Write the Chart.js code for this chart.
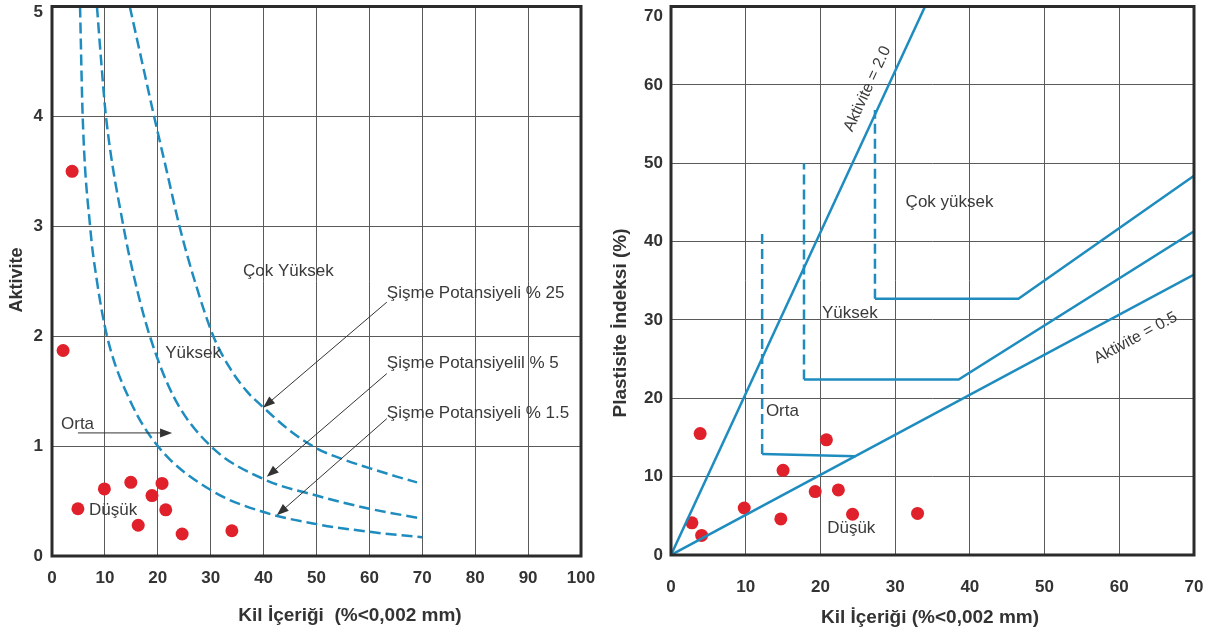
<!DOCTYPE html>
<html>
<head>
<meta charset="utf-8">
<script src="https://cdn.jsdelivr.net/npm/chart.js@4"></script>
<style>
  html, body { margin: 0; padding: 0; background: #fff; }
  #wrap { position: relative; width: 1207px; height: 630px; overflow: hidden; }
  #left { position: absolute; left: 0; top: 0; }
  #right { position: absolute; left: 600px; top: 0; }
</style>
</head>
<body>
<div id="wrap">
  <canvas id="left" width="600" height="630"></canvas>
  <canvas id="right" width="607" height="630"></canvas>
</div>
<script>
// ---- left chart: Aktivite vs Kil İçeriği ----
const leftTicksX = [0, 10, 20, 30, 40, 50, 60, 70, 80, 90, 100];
const leftTicksY = [0, 1, 2, 3, 4, 5];

// swell potential curves
const swell25C = [14.7, 17.0, 19.3, 21.7, 24.1, 27.0, 30.5, 33.5, 36.8, 40.0, 45.0, 50.0, 55.0, 60.0, 65.0, 69.0];
const swell25A = [5.0, 4.5, 4.0, 3.5, 3.0, 2.5, 2.0, 1.72, 1.5, 1.35, 1.14, 0.98, 0.88, 0.80, 0.725, 0.67];
const swell5C = [8.5, 9.3, 10.2, 13.5, 15.7, 18.5, 23.0, 30.0, 40.0, 50.0, 60.0, 70.0];
const swell5A = [5.0, 4.5, 4.0, 3.0, 2.5, 2.0, 1.45, 1.0, 0.70, 0.55, 0.43, 0.34];
const swell15C = [5.3, 5.8, 7.2, 8.5, 10.4, 14.7, 20.0, 30.0, 40.0, 50.0, 60.0, 70.0];
const swell15A = [5.0, 4.0, 3.0, 2.5, 2.0, 1.42, 1.0, 0.60, 0.40, 0.29, 0.22, 0.17];

// samples
const sampleC = [3.8, 2.1, 9.9, 4.9, 14.9, 18.9, 20.8, 21.5, 16.3, 24.6, 34.0];
const sampleA = [3.5, 1.87, 0.61, 0.43, 0.67, 0.55, 0.66, 0.42, 0.28, 0.20, 0.23];

// ---- right chart: Plastisite İndeksi vs Kil İçeriği ----
const rightTicksX = [0, 10, 20, 30, 40, 50, 60, 70];
const rightTicksY = [0, 10, 20, 30, 40, 50, 60, 70];

const act2C = [0, 34];
const act2PI = [0, 70];
const act05C = [0, 70];
const act05PI = [0, 35.8];
const highC = [27.3, 46.5, 70];
const highPI = [32.7, 32.7, 48.4];
const midC = [17.8, 38.5, 70];
const midPI = [22.4, 22.4, 41.3];
const lowC = [12.2, 24.7];
const lowPI = [12.9, 12.6];
const dashLowC = [12.2, 12.2];
const dashLowPI = [12.9, 41.3];
const dashMidC = [17.8, 17.8];
const dashMidPI = [22.4, 50.0];
const dashHighC = [27.3, 27.3];
const dashHighPI = [32.7, 56.8];

const piC = [2.8, 3.9, 4.1, 9.8, 14.7, 15.0, 19.3, 20.8, 22.4, 24.3, 33.0];
const piPI = [4.1, 15.5, 2.5, 6.0, 4.6, 10.8, 8.1, 14.7, 8.3, 5.2, 5.3];

const FONT = "'Liberation Sans', Arial, sans-serif";
const BLUE = '#1e8cbf';
const RED = '#e0202a';
const TEXT = '#3a3a3a';

const pts = (xs, ys) => xs.map((v, i) => ({ x: v, y: ys[i] }));

// text, arrows and frame drawn on top, positioned through the scales
const notesPlugin = {
  id: 'notes',
  afterDatasetsDraw(chart, args, opts) {
    const { ctx, chartArea: a, scales: { x, y } } = chart;
    ctx.save();
    ctx.lineWidth = 3;
    ctx.strokeStyle = '#2b2b2b';
    ctx.strokeRect(a.left, a.top, a.right - a.left, a.bottom - a.top);

    (opts.arrows || []).forEach(ar => {
      const x0 = x.getPixelForValue(ar.from[0]), y0 = y.getPixelForValue(ar.from[1]);
      const x1 = x.getPixelForValue(ar.to[0]), y1 = y.getPixelForValue(ar.to[1]);
      const ang = Math.atan2(y1 - y0, x1 - x0);
      ctx.strokeStyle = '#333';
      ctx.fillStyle = '#333';
      ctx.lineWidth = 1;
      ctx.beginPath();
      ctx.moveTo(x0, y0);
      ctx.lineTo(x1 - 8 * Math.cos(ang), y1 - 8 * Math.sin(ang));
      ctx.stroke();
      ctx.beginPath();
      ctx.moveTo(x1, y1);
      ctx.lineTo(x1 - 12 * Math.cos(ang) + 4.5 * Math.sin(ang), y1 - 12 * Math.sin(ang) - 4.5 * Math.cos(ang));
      ctx.lineTo(x1 - 12 * Math.cos(ang) - 4.5 * Math.sin(ang), y1 - 12 * Math.sin(ang) + 4.5 * Math.cos(ang));
      ctx.closePath();
      ctx.fill();
    });

    (opts.texts || []).forEach(t => {
      let px, py;
      if (t.px !== undefined) { px = t.px; py = t.py; }
      else { px = x.getPixelForValue(t.x); py = y.getPixelForValue(t.y); }
      let ang = (t.angle || 0) * Math.PI / 180;
      if (t.along) {
        const [xs, ys] = t.along;
        const n = xs.length - 1;
        ang = Math.atan2(y.getPixelForValue(ys[n]) - y.getPixelForValue(ys[0]),
                         x.getPixelForValue(xs[n]) - x.getPixelForValue(xs[0]));
      }
      ctx.save();
      ctx.translate(px, py);
      ctx.rotate(ang);
      ctx.font = t.font || `17px ${FONT}`;
      ctx.fillStyle = t.color || TEXT;
      ctx.textAlign = t.align || 'left';
      ctx.textBaseline = 'middle';
      ctx.fillText(t.text, 0, 0);
      ctx.restore();
    });
    ctx.restore();
  }
};

// fixed axis boxes, no extra padding for labels that stick out
function axisOpts(ticks, padding, lineHeight, size) {
  const min = ticks[0], max = ticks[ticks.length - 1];
  const step = ticks[1] - ticks[0];
  return {
    type: 'linear', min, max,
    afterBuildTicks: s => { s.ticks = ticks.map(v => ({ value: v })); },
    ticks: {
      stepSize: step, padding, color: '#333',
      font: { family: FONT, size: 17, weight: 'bold', lineHeight },
      // top label sits a bit lower in the source, as in a two-line label
      callback: (v, i, arr) => (size.axis === 'y' && v === max) ? ['', String(v)] : String(v)
    },
    grid: { color: '#5a5a5a', lineWidth: 1, drawTicks: false },
    border: { display: false },
    afterFit: s => {
      if (size.axis === 'x') s.height = size.px; else s.width = size.px;
      s.paddingTop = 0; s.paddingBottom = 0; s.paddingLeft = 0; s.paddingRight = 0;
    }
  };
}

const bold = size => `bold ${size}px ${FONT}`;
const dashed = (xs, ys, dash) => ({
  data: pts(xs, ys), showLine: true, borderColor: BLUE, borderWidth: 2.5,
  borderDash: dash || [], pointRadius: 0
});

new Chart(document.getElementById('left'), {
  type: 'scatter',
  data: {
    datasets: [
      { ...dashed(swell25C, swell25A, [11, 5]), cubicInterpolationMode: 'monotone' },
      { ...dashed(swell5C, swell5A, [11, 5]), cubicInterpolationMode: 'monotone' },
      { ...dashed(swell15C, swell15A, [11, 5]), cubicInterpolationMode: 'monotone' },
      { data: pts(sampleC, sampleA), backgroundColor: RED, borderColor: RED, pointRadius: 6.5, borderWidth: 0 }
    ]
  },
  options: {
    responsive: false,
    animation: false,
    layout: { padding: { top: 4, right: 19, left: 0, bottom: 0 } },
    scales: {
      x: axisOpts(leftTicksX, 12, 1.2, { axis: 'x', px: 74 }),
      y: axisOpts(leftTicksY, 9, 0.7, { axis: 'y', px: 52 })
    },
    plugins: {
      legend: { display: false },
      tooltip: { enabled: false },
      notes: {
        arrows: [
          { from: [4.9, 1.12], to: [22.7, 1.12] },
          { from: [63.3, 2.31], to: [39.9, 1.35] },
          { from: [63.3, 1.66], to: [40.6, 0.72] },
          { from: [63.3, 1.25], to: [42.5, 0.37] }
        ],
        texts: [
          { text: 'Çok Yüksek', x: 36.1, y: 2.59 },
          { text: 'Yüksek', x: 21.4, y: 1.84 },
          { text: 'Orta', x: 1.7, y: 1.20 },
          { text: 'Düşük', x: 7.0, y: 0.42 },
          { text: 'Şişme Potansiyeli % 25', x: 63.3, y: 2.39 },
          { text: 'Şişme Potansiyelil % 5', x: 63.3, y: 1.75 },
          { text: 'Şişme Potansiyeli % 1.5', x: 63.3, y: 1.30 },
          { text: 'Kil İçeriği  (%<0,002 mm)', px: 350, py: 616, align: 'center', font: bold(19), color: '#333' },
          { text: 'Aktivite', px: 17, py: 280, angle: -90, align: 'center', font: bold(18), color: '#333' }
        ]
      }
    }
  },
  plugins: [notesPlugin]
});

new Chart(document.getElementById('right'), {
  type: 'scatter',
  data: {
    datasets: [
      dashed(act2C, act2PI),
      dashed(act05C, act05PI),
      dashed(highC, highPI),
      dashed(midC, midPI),
      dashed(lowC, lowPI),
      dashed(dashLowC, dashLowPI, [10, 5]),
      dashed(dashMidC, dashMidPI, [10, 5]),
      dashed(dashHighC, dashHighPI, [10, 5]),
      { data: pts(piC, piPI), backgroundColor: RED, borderColor: RED, pointRadius: 6.5, borderWidth: 0 }
    ]
  },
  options: {
    responsive: false,
    animation: false,
    layout: { padding: { top: 4, right: 13, left: 0, bottom: 0 } },
    scales: {
      x: axisOpts(rightTicksX, 22, 1.2, { axis: 'x', px: 75 }),
      y: axisOpts(rightTicksY, 8, 1.2, { axis: 'y', px: 71 })
    },
    plugins: {
      legend: { display: false },
      tooltip: { enabled: false },
      notes: {
        texts: [
          { text: 'Çok yüksek', x: 31.4, y: 45.0 },
          { text: 'Yüksek', x: 20.2, y: 30.8 },
          { text: 'Orta', x: 12.7, y: 18.4 },
          { text: 'Düşük', x: 20.9, y: 3.4 },
          { text: 'Aktivite = 2.0', x: 26.3, y: 59.5, align: 'center', along: [act2C, act2PI], font: `16px ${FONT}` },
          { text: 'Aktivite = 0.5', x: 62.2, y: 27.7, align: 'center', along: [act05C, act05PI], font: `16px ${FONT}` },
          { text: 'Kil İçeriği (%<0,002 mm)', px: 330, py: 618, align: 'center', font: bold(19), color: '#333' },
          { text: 'Plastisite İndeksi (%)', px: 21, py: 323, angle: -90, align: 'center', font: bold(19), color: '#333' }
        ]
      }
    }
  },
  plugins: [notesPlugin]
});
</script>
</body>
</html>
